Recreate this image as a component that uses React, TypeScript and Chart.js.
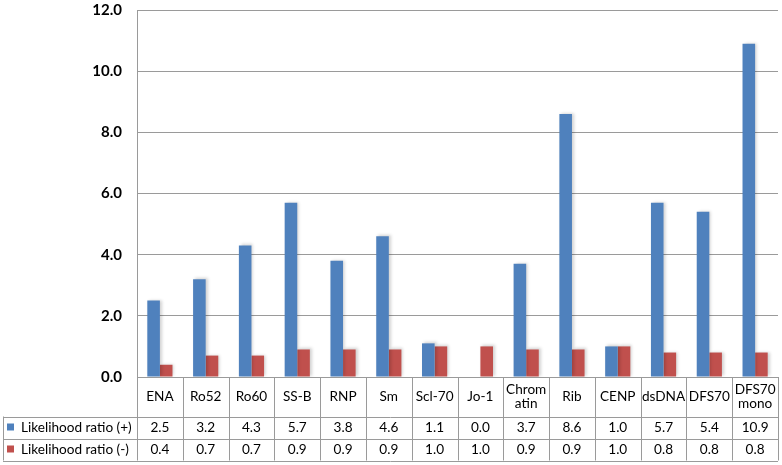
import React, { useEffect, useRef } from "react";
import { Chart, registerables } from "chart.js";

Chart.register(...registerables);

const categories: string[][] = [
  ["ENA"], ["Ro52"], ["Ro60"], ["SS-B"], ["RNP"], ["Sm"], ["Scl-70"], ["Jo-1"],
  ["Chrom", "atin"], ["Rib"], ["CENP"], ["dsDNA"], ["DFS70"], ["DFS70", "mono"],
];
const seriesNames = ["Likelihood ratio (+)", "Likelihood ratio (-)"];
const lrPositive = [2.5, 3.2, 4.3, 5.7, 3.8, 4.6, 1.1, 0.0, 3.7, 8.6, 1.0, 5.7, 5.4, 10.9];
const lrNegative = [0.4, 0.7, 0.7, 0.9, 0.9, 0.9, 1.0, 1.0, 0.9, 0.9, 1.0, 0.8, 0.8, 0.8];
const seriesColors = ["#4F81BD", "#C0504D"];
const yTicks = { min: 0, max: 12, step: 2 };

const FONT = "Lato, 'Liberation Sans', sans-serif";

const tablePlugin = {
  id: "dataTable",
  beforeDatasetsDraw(chart: any) {
    const ctx = chart.ctx;
    ctx.save();
    ctx.shadowColor = "rgba(0,0,0,0.18)";
    ctx.shadowBlur = 3;
    ctx.shadowOffsetX = 2;
    ctx.shadowOffsetY = -1;
  },
  afterDatasetsDraw(chart: any) {
    chart.ctx.restore();
  },
  afterDraw(chart: any) {
    const ctx = chart.ctx;
    const area = chart.chartArea;
    const xs = chart.scales.x;
    const n = categories.length;
    const colW = (area.right - area.left) / n;
    const top = area.bottom;
    const headerH = 39.5;
    const rowH = 22;
    const tableLeft = 3;
    const r1 = top + headerH;
    const r2 = r1 + rowH;
    const r3 = r2 + rowH;

    ctx.save();
    ctx.strokeStyle = "#9a9a9a";
    ctx.lineWidth = 1;
    ctx.beginPath();
    ctx.moveTo(area.left, top + 0.5);
    ctx.lineTo(area.right, top + 0.5);
    for (const y of [r1, r2, r3]) {
      ctx.moveTo(tableLeft, Math.round(y) + 0.5);
      ctx.lineTo(area.right, Math.round(y) + 0.5);
    }
    for (let i = 0; i <= n; i++) {
      const x = Math.round(area.left + i * colW) + 0.5;
      ctx.moveTo(x, top);
      ctx.lineTo(x, r3);
    }
    ctx.moveTo(tableLeft + 0.5, r1);
    ctx.lineTo(tableLeft + 0.5, r3);
    ctx.stroke();

    ctx.fillStyle = "#000";
    ctx.font = `13.6px ${FONT}`;
    ctx.textAlign = "center";
    ctx.textBaseline = "middle";
    categories.forEach((lines, i) => {
      const cx = xs.getPixelForValue(i);
      const cy = top + headerH / 2;
      const lh = 14;
      lines.forEach((ln, j) => {
        ctx.fillText(ln, cx, cy + (j - (lines.length - 1) / 2) * lh);
      });
      ctx.fillText(lrPositive[i].toFixed(1), cx, r1 + rowH / 2);
      ctx.fillText(lrNegative[i].toFixed(1), cx, r2 + rowH / 2);
    });

    ctx.textAlign = "left";
    [r1, r2].forEach((ry, k) => {
      const cy = ry + rowH / 2;
      ctx.fillStyle = seriesColors[k];
      ctx.fillRect(7, cy - 4, 7, 7);
      ctx.fillStyle = "#000";
      ctx.fillText(seriesNames[k], 21, cy);
    });
    ctx.restore();
  },
};

export default function App() {
  const ref = useRef<HTMLCanvasElement>(null);
  useEffect(() => {
    document.body.style.margin = "0";
    const chart = new Chart(ref.current!, {
      type: "bar",
      data: {
        labels: categories.map((c) => c.join(" ")),
        datasets: [
          { label: seriesNames[0], data: lrPositive, backgroundColor: seriesColors[0], categoryPercentage: 0.55, barPercentage: 1 },
          { label: seriesNames[1], data: lrNegative, backgroundColor: seriesColors[1], categoryPercentage: 0.55, barPercentage: 1 },
        ],
      },
      options: {
        responsive: false,
        animation: false,
        layout: { padding: { top: 10, right: 4, bottom: 88, left: 0 } },
        plugins: { legend: { display: false }, tooltip: { enabled: false } },
        scales: {
          x: { display: false },
          y: {
            min: yTicks.min,
            max: yTicks.max,
            afterFit: (s: any) => { s.width = 137; s.paddingTop = 0; s.paddingBottom = 0; },
            ticks: {
              stepSize: yTicks.step,
              padding: 15,
              color: "#000",
              font: { family: FONT, size: 15, weight: "bold" },
              callback: (v: any) => Number(v).toFixed(1),
            },
            grid: { color: "#9a9a9a", drawTicks: false },
            border: { color: "#9a9a9a" },
          },
        },
      },
      plugins: [tablePlugin],
    });
    return () => chart.destroy();
  }, []);
  return <canvas ref={ref} width={782} height={465} />;
}
